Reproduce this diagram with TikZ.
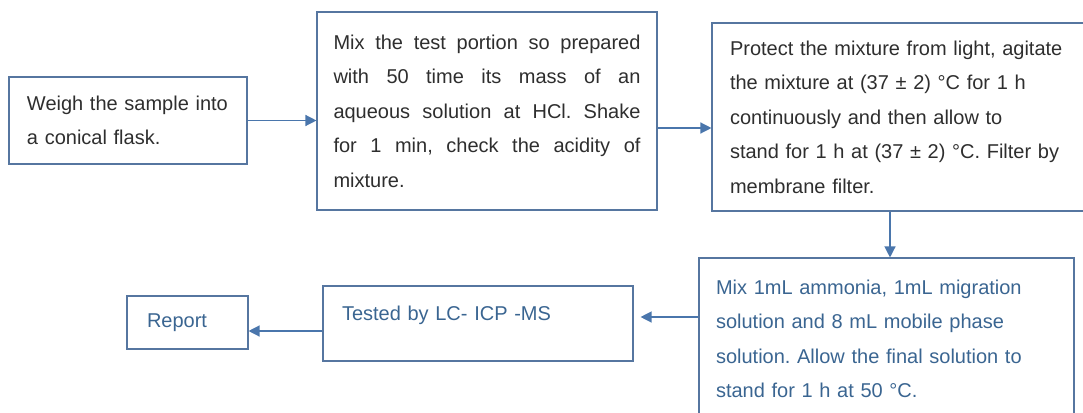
\documentclass[tikz,border=0pt]{standalone}
\usepackage{fontspec}
\setmainfont{Liberation Sans}
\usetikzlibrary{arrows.meta}
\definecolor{boxblue}{HTML}{5676A0}
\definecolor{arrowblue}{HTML}{4A76AC}
\definecolor{darktext}{HTML}{2E2E2E}
\definecolor{bluetext}{HTML}{3A6591}
\newcommand{\procfont}{\fontsize{20}{34.5}\selectfont\frenchspacing}

\begin{document}
\begin{tikzpicture}[
		x=1pt, y=-1pt,
		stepbox/.style={draw=boxblue, line width=1.1pt, align=left, font=\procfont, text=darktext, inner ysep=0pt},
		flow/.style={draw=arrowblue, line width=1.3pt, -{Triangle[length=11pt,width=11pt]}}
		]
		\useasboundingbox (0,0) rectangle (1083,412);
		\clip (0,0) rectangle (1083,412);
		
		\node[stepbox, inner xsep=18pt, text width=202pt, minimum height=87pt] (weigh) at (128,120.5) {Weigh the sample into\\a conical flask.};
		\node[stepbox, align=justify, inner xsep=16.5pt, text width=307pt, minimum height=198pt] (mix) at (487,111) {Mix the test portion so prepared\linebreak with 50 time its mass of an\linebreak aqueous solution at HCl. Shake\linebreak for 1 min, check the acidity of\linebreak mixture.};
		\node[stepbox, inner xsep=18pt, text width=352pt, minimum height=188pt] (protect) at (906,117) {Protect the mixture from light, agitate\\the mixture at (37 ± 2) °C for 1 h\\continuously and then allow to\\stand for 1 h at (37 ± 2) °C. Filter by\\membrane filter.};
		\node[stepbox, text=bluetext, inner xsep=17pt, text width=341pt, minimum height=162pt] (ammonia) at (886.5,339) {Mix 1mL ammonia, 1mL migration\\solution and 8 mL mobile phase\\solution. Allow the final solution to\\stand for 1 h at 50 °C.};
		\node[stepbox, text=bluetext, inner xsep=19pt, text width=272pt, text height=34pt, text depth=41pt] (tested) at (478,323.5) {Tested by LC- ICP -MS};
		\node[stepbox, text=bluetext, inner xsep=20pt, text width=81pt, minimum height=53pt] (report) at (187.5,322.5) {Report};
		
		\draw[flow] (weigh.east) -- (weigh.east -| mix.west);
		\draw[flow] ([yshift=-17pt]mix.east) -- ([yshift=-17pt]mix.east -| protect.west);
		\draw[flow] ([xshift=-16pt]protect.south) -- ([xshift=-16pt]protect.south |- ammonia.north);
		\draw[flow, shorten >=7pt] ([yshift=22pt]ammonia.west) -- ([yshift=22pt]ammonia.west -| tested.east);
		\draw[flow] ([yshift=-7.5pt]tested.west) -- ([yshift=-7.5pt]tested.west -| report.east);
	\end{tikzpicture}
\end{document}
